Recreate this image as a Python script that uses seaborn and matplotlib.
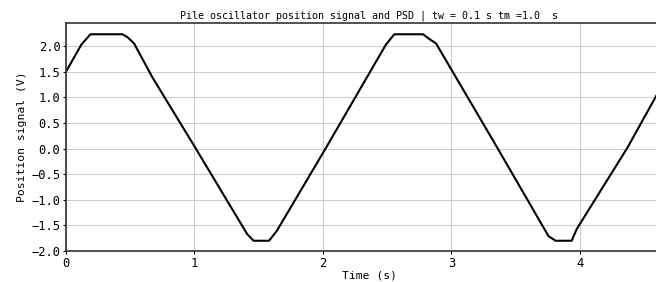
import matplotlib
matplotlib.use("Agg")
import matplotlib.pyplot as plt
import seaborn as sns
import pandas as pd

# Position signal (time in s, volts)
time_s = [0.00, 0.12, 0.19, 0.44, 0.48, 0.53, 0.67, 1.01, 1.41, 1.46, 1.58, 1.64,
          2.02, 2.49, 2.555, 2.78, 2.82, 2.88, 3.36, 3.755, 3.81, 3.935, 3.975,
          4.37, 4.72]
position_v = [1.50, 2.03, 2.23, 2.23, 2.17, 2.05, 1.40, 0.00, -1.67, -1.80, -1.80, -1.61,
              0.00, 2.03, 2.23, 2.23, 2.15, 2.05, 0.00, -1.71, -1.80, -1.80, -1.57,
              0.02, 1.60]

x_ticks = [0, 1, 2, 3, 4]
y_ticks = [-2.0, -1.5, -1.0, -0.5, 0.0, 0.5, 1.0, 1.5, 2.0]

df = pd.DataFrame({"t": time_s, "v": position_v})

sns.set_theme(style="whitegrid")
plt.rcParams["font.family"] = ["DejaVu Sans Mono", "DejaVu Sans"]
plt.rcParams["axes.unicode_minus"] = True

fig = plt.figure(figsize=(6.56, 2.82), dpi=100)
ax = fig.add_axes([66 / 656, 31 / 282, 606 / 656, 228 / 282])

sns.lineplot(data=df, x="t", y="v", ax=ax, color="black", linewidth=1.5)

ax.set_xlim(0, 4.716)
ax.set_ylim(-2.0, 2.45)
ax.set_xticks(x_ticks)
ax.set_yticks(y_ticks)
ax.set_yticklabels([f"{v:.1f}".replace("-", "\u2212") for v in y_ticks])

ax.grid(True, color="#cccccc", linewidth=0.8)
for side in ["left", "bottom", "top", "right"]:
    ax.spines[side].set_visible(True)
    ax.spines[side].set_color("#333333")
    ax.spines[side].set_linewidth(1.2)

ax.tick_params(axis="both", labelsize=8.7, length=2.5, width=0.8, pad=1.5,
               colors="black", bottom=True, left=True)
ax.set_xlabel("Time (s)", fontsize=8.2, labelpad=1, color="black")
ax.set_ylabel("Position signal (V)", fontsize=8.2, labelpad=3, color="black")
ax.set_title("Pile oscillator position signal and PSD | tw = 0.1 s tm =1.0  s",
             fontsize=7.2, pad=3, color="black")

fig.savefig("out.png", dpi=100)
